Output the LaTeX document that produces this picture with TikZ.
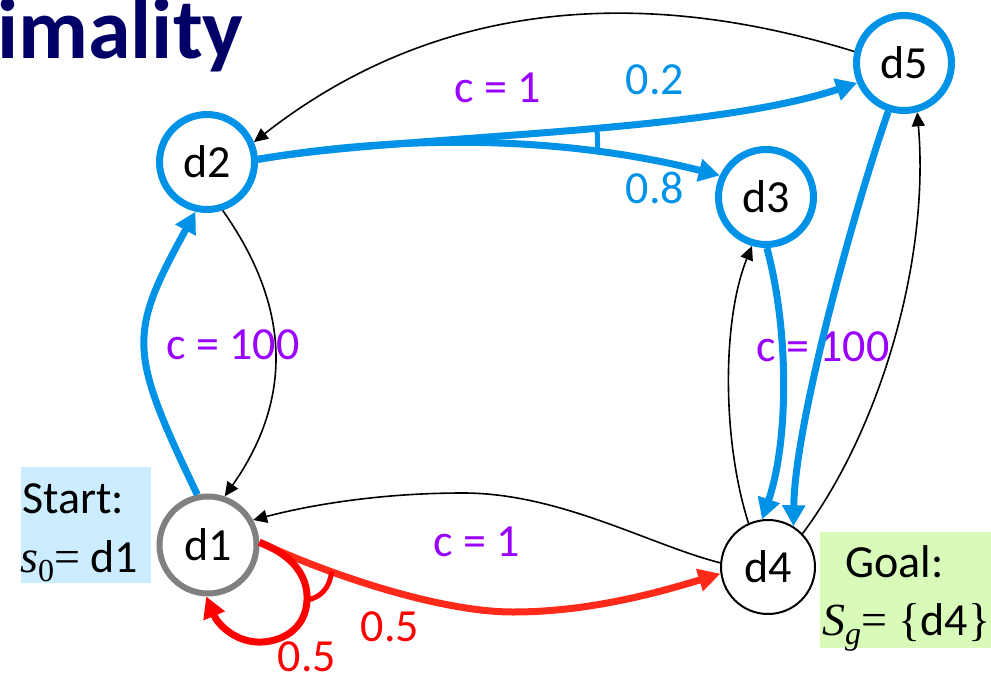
\documentclass[tikz,border=0pt]{standalone}
\usepackage{fontspec}
\setmainfont{Carlito}
\newfontfamily\tmsfam{Liberation Serif}
\newfontfamily\tmsit{Liberation Serif Italic}
\usetikzlibrary{arrows.meta}
\definecolor{ablue}{HTML}{0092E6}
\definecolor{apurple}{HTML}{9900FF}
\definecolor{ared}{HTML}{FF0000}
\definecolor{aredb}{HTML}{FF2A1A}
\definecolor{agray}{HTML}{808080}
\definecolor{anavy}{HTML}{000066}
\definecolor{startbg}{HTML}{CCECFF}
\definecolor{goalbg}{HTML}{D8FBBA}
\begin{document}
\begin{tikzpicture}[x=1pt,y=-1pt,
  every node/.style={font=\fontsize{46}{55}\selectfont, inner sep=0pt},
  bstate/.style={circle, minimum size=95pt, fill=white, line width=7pt, draw=ablue},
  gstate/.style={circle, minimum size=97pt, fill=white, line width=6pt, draw=agray},
  kstate/.style={circle, minimum size=94pt, fill=white, line width=2pt, draw=black},
  bedge/.style={draw=ablue, line width=7pt, -{Triangle[length=21pt,width=22pt]}},
  redge/.style={draw=aredb, line width=7pt, -{Triangle[length=22pt,width=22pt]}},
  rloop/.style={draw=ared, line width=7pt, -{Triangle[length=21pt,width=22pt]}},
  kedge/.style={draw=black, line width=1.6pt, -{Triangle[length=14pt,width=13pt]}},
  plabel/.style={text=apurple},
  blabel/.style={text=ablue},
  rlabel/.style={text=ared}]
\useasboundingbox (0,0) rectangle (991,677);
% boxes
\fill[startbg] (21,467) rectangle (151,583);
\fill[goalbg] (820,532) rectangle (991,648);
\node[anchor=base west] (start1) at (22,513) {Start:};
\node[anchor=base west] (start2) at (20,572) {{\tmsit s}{\tmsfam\fontsize{32}{32}\selectfont\raisebox{-9pt}{0}}{\tmsfam=} d1};
\node[anchor=base west] (goal1) at (845,577) {Goal:};
\node[anchor=base west] (goal2) at (822,635) {{\tmsit S}{\tmsit\fontsize{32}{32}\selectfont\raisebox{-9pt}{g}}{\tmsfam= \{}d4{\tmsfam\}}};
% title
\node[anchor=base west, font=\fontsize{86}{96}\selectfont\bfseries, text=anavy] (title) at (-3,59) {imality};
% labels
\node[plabel] (lc1) at (498,88) {c = 1};
\node[blabel] (l02) at (655,80) {0.2};
\node[blabel] (l08) at (655,188) {0.8};
\node[plabel] (lc100a) at (233,345) {c = 100};
\node[plabel] (lc100b) at (823,347) {c = 100};
\node[plabel] (lc1b) at (477,542) {c = 1};
\node[rlabel] (l05a) at (390,627) {0.5};
\node[rlabel] (l05b) at (307,657) {0.5};
% states
\node[gstate] (d1) at (208,545) {d1};
\node[bstate] (d2) at (207,162) {d2};
\node[bstate] (d3) at (766,197) {d3};
\node[kstate] (d4) at (768,567) {d4};
\node[bstate] (d5) at (904,63) {d5};
% edges
\draw[bedge] (d1.102) .. controls (128,350) and (128,335) .. (d2.257);
\draw[kedge] (d2.288) .. controls (291,307) and (293,399) .. (d1.71);
\draw[kedge] (d5.167) .. controls (720,10) and (480,-35) .. (d2.23);
\draw[bedge] (d2.3) .. controls (400,135) and (700,135) .. (d5.203) coordinate[pos=0.567] (u1);
\draw[bedge] (d2.3) .. controls (400,135) and (560,135) .. (d3.155) coordinate[pos=0.745] (l1);
\draw[draw=ablue, line width=5pt] (u1) -- (l1);
\draw[bedge] (d3.271) .. controls (789,330) and (789,440) .. (d4.97);
\draw[bedge] (d5.252) .. controls (858,197) and (795,420) .. (d4.58);
\draw[kedge] (d4.114) .. controls (722,440) and (722,320) .. (d3.254);
\draw[kedge] (d4.44) .. controls (880,430) and (930,260) .. (d5.285);
\draw[kedge] (d4.175) .. controls (650,545) and (560,493) .. (463,493)
   .. controls (380,493) and (310,505) .. (d1.29);
\draw[redge] (d1.3) .. controls (330,575) and (440,612) .. (513,612) coordinate[pos=0.3] (r1)
   .. controls (590,612) and (660,592) .. (d4.188);
\draw[rloop] (d1.3) .. controls (295,556) and (308,578) .. (307,600) coordinate (r2)
   .. controls (306,630) and (280,643) .. (257,642)
   .. controls (235,641) and (218,625) .. (d1.268);
\draw[draw=ared, line width=5pt] (r2) .. controls (320,598) and (330,588) .. (r1);
\end{tikzpicture}
\end{document}
